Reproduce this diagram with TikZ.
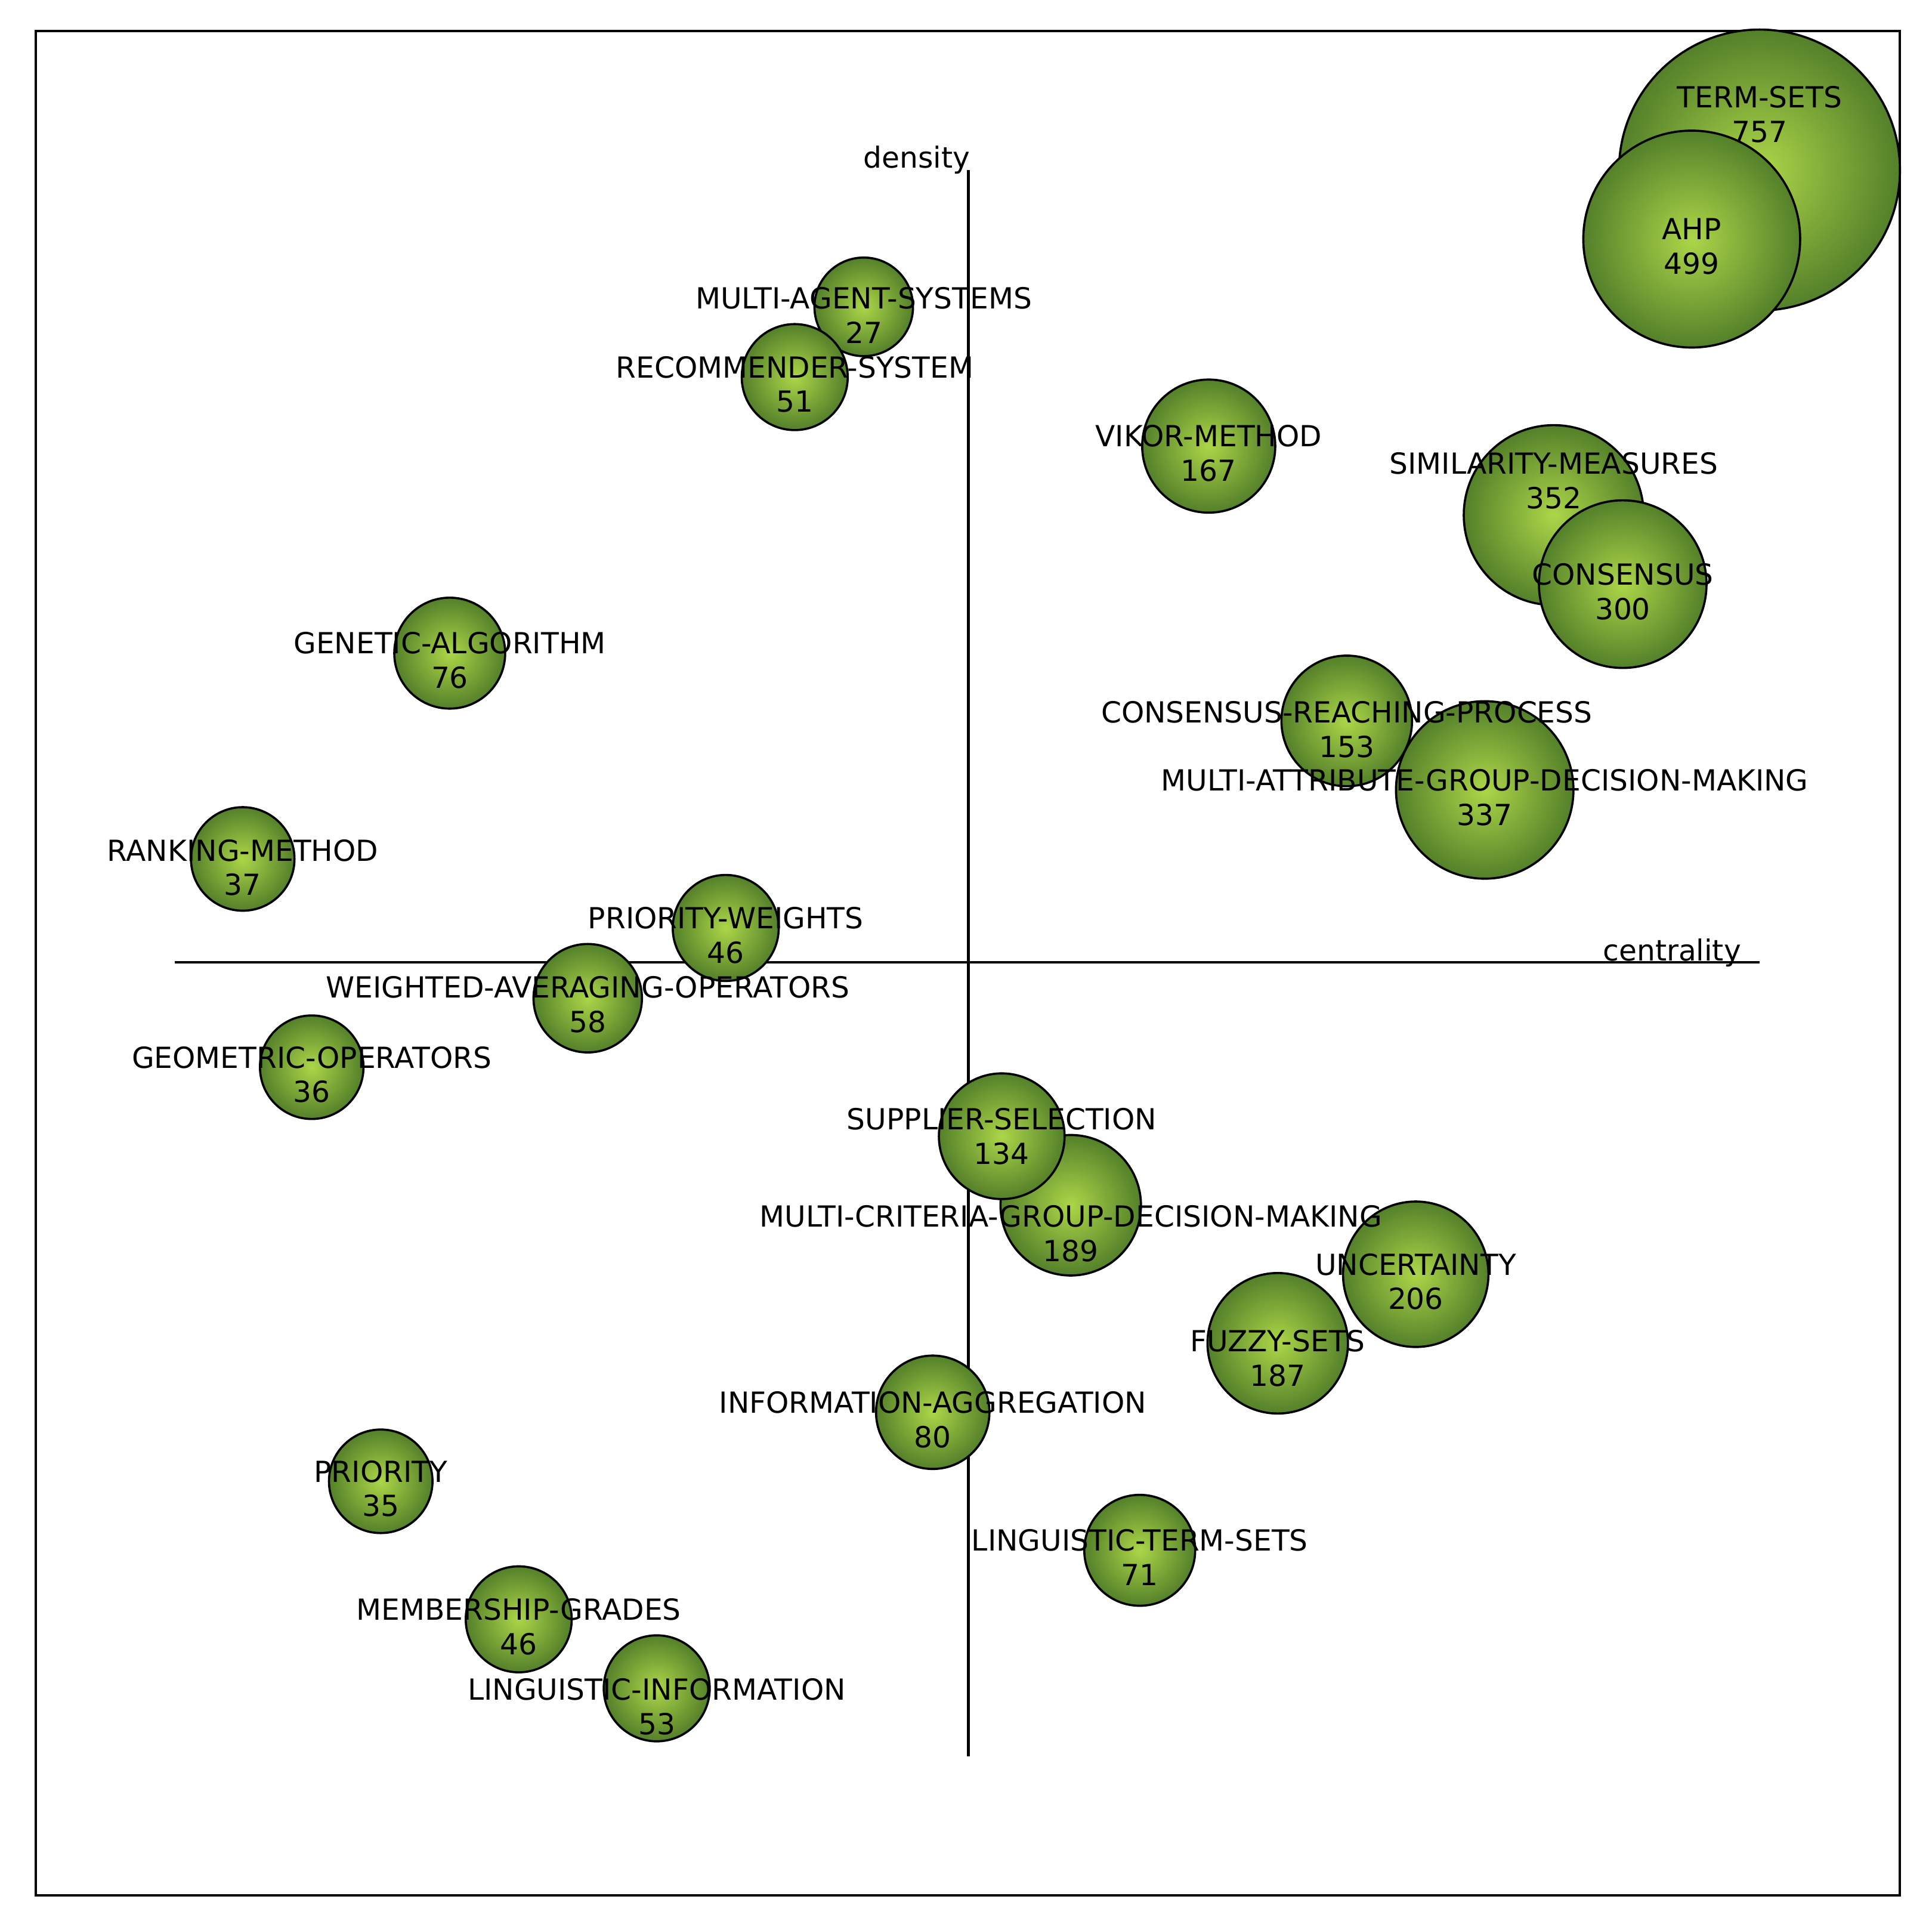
\documentclass[tikz,border=0pt]{standalone}
\usepackage{fontspec}
\setmainfont{DejaVu Sans}
\begin{document}
\begin{tikzpicture}[x=0.01cm,y=-0.01cm,
 bub/.style={draw=black,line width=0.5pt,inner color={rgb,255:red,172;green,214;blue,72},outer color={rgb,255:red,84;green,128;blue,42}},
 lab/.style={font=\fontsize{6.7}{7}\selectfont,inner sep=0pt,anchor=center},
 ax/.style={line width=0.6pt}]
\useasboundingbox (0,0) rectangle (1568,1561);
\node[draw,line width=0.6pt,minimum width=15.12cm,minimum height=15.12cm,anchor=north west,inner sep=0] (frame) at (28,24) {};
\coordinate (vt) at (786,138); \coordinate (vb) at (786,1425);
\coordinate (hl) at (142,781); \coordinate (hr) at (1428,781);
\draw[ax] (vt) -- (vb); \draw[ax] (hl) -- (hr);
\node[lab] (density) at (744,130) {density};
\node[lab] (centrality) at (1357,773) {centrality};
% circles
\foreach \n/\x/\y/\r in {c1/1428/138/114,c2/1373/194/88,c3/701/249/40,c4/645/306/43,c5/981/362/54,c6/1261/418/73,c7/1317/474/68,c8/365/530/45,c9/1093/585/53,c10/1205/641/72,c11/197/697/42,c12/589/753/43,c13/477/810/44,c14/253/866/42,c16/869/978/57,c15/813/922/51,c17/1149/1034/59,c18/1037/1090/57,c19/757/1146/46,c20/309/1202/42,c21/925/1258/45,c22/421/1314/43,c23/533/1370/43}
 {\path[bub] (\x,\y) circle[radius=\r];}
% labels
\foreach \n/\x/\y/\t/\v in {t1/1428/79/TERM-SETS/757,t2/1373/186/AHP/499,t3/701/242/MULTI-AGENT-SYSTEMS/27,t4/645/298/RECOMMENDER-SYSTEM/51,t5/981/354/VIKOR-METHOD/167,t6/1261/376/SIMILARITY-MEASURES/352,t7/1317/466/CONSENSUS/300,t8/365/522/GENETIC-ALGORITHM/76,t9/1093/578/CONSENSUS-REACHING-PROCESS/153,t10/1205/633/MULTI-ATTRIBUTE-GROUP-DECISION-MAKING/337,t11/197/690/RANKING-METHOD/37,t12/589/745/PRIORITY-WEIGHTS/46,t13/477/801/WEIGHTED-AVERAGING-OPERATORS/58,t14/253/858/GEOMETRIC-OPERATORS/36,t15/813/908/SUPPLIER-SELECTION/134,t16/869/987/MULTI-CRITERIA-GROUP-DECISION-MAKING/189,t17/1149/1026/UNCERTAINTY/206,t18/1037/1088/FUZZY-SETS/187,t19/757/1138/INFORMATION-AGGREGATION/80,t20/309/1194/PRIORITY/35,t21/925/1250/LINGUISTIC-TERM-SETS/71,t22/421/1306/MEMBERSHIP-GRADES/46,t23/533/1371/LINGUISTIC-INFORMATION/53}
 {\node[lab] (\n a) at (\x,\y) {\t}; \node[lab] (\n b) at (\x,\y+28) {\v};}
\end{tikzpicture}
\end{document}
